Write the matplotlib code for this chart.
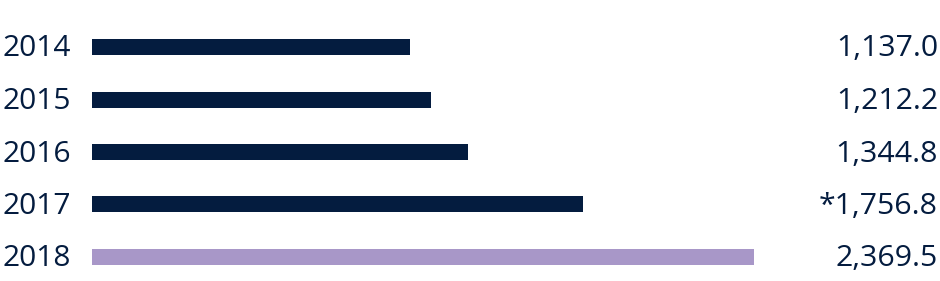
import matplotlib.pyplot as plt
import matplotlib.transforms as mtransforms

# Data
years = ['2014', '2015', '2016', '2017', '2018']
values = [1137.0, 1212.2, 1344.8, 1756.8, 2369.5]
notes = ['', '', '', '*', '']

NAVY = '#041c3f'
PURPLE = '#a897c8'
colors = [NAVY, NAVY, NAVY, NAVY, PURPLE]

plt.rcParams['font.family'] = ['Open Sans', 'DejaVu Sans']

W, H = 940, 281
fig = plt.figure(figsize=(W / 100, H / 100), dpi=100)
ax = fig.add_axes([92 / W, 0, 1 - 92 / W, 1])

row = 52.5  # px between rows
first = 47  # px from top to first row centre
pos = list(range(len(years)))
ax.barh(pos, values, height=16 / row, color=colors)

ax.set_xlim(0, (W - 92) / (662 / 2369.5))
ax.set_ylim((H - first) / row, -first / row)
ax.axis('off')

trans = mtransforms.blended_transform_factory(fig.transFigure, ax.transData)
shift = mtransforms.ScaledTranslation(0, -2 / 100, fig.dpi_scale_trans)
for i, (yr, v, n) in enumerate(zip(years, values, notes)):
    fig.text(2 / W, i, yr, transform=trans + shift, ha='left', va='center',
             fontsize=21.5, color=NAVY)
    fig.text(938 / W, i, f'{n}{v:,.1f}', transform=trans + shift, ha='right',
             va='center', fontsize=21.8, color=NAVY)

fig.savefig('out.png', dpi=100)
